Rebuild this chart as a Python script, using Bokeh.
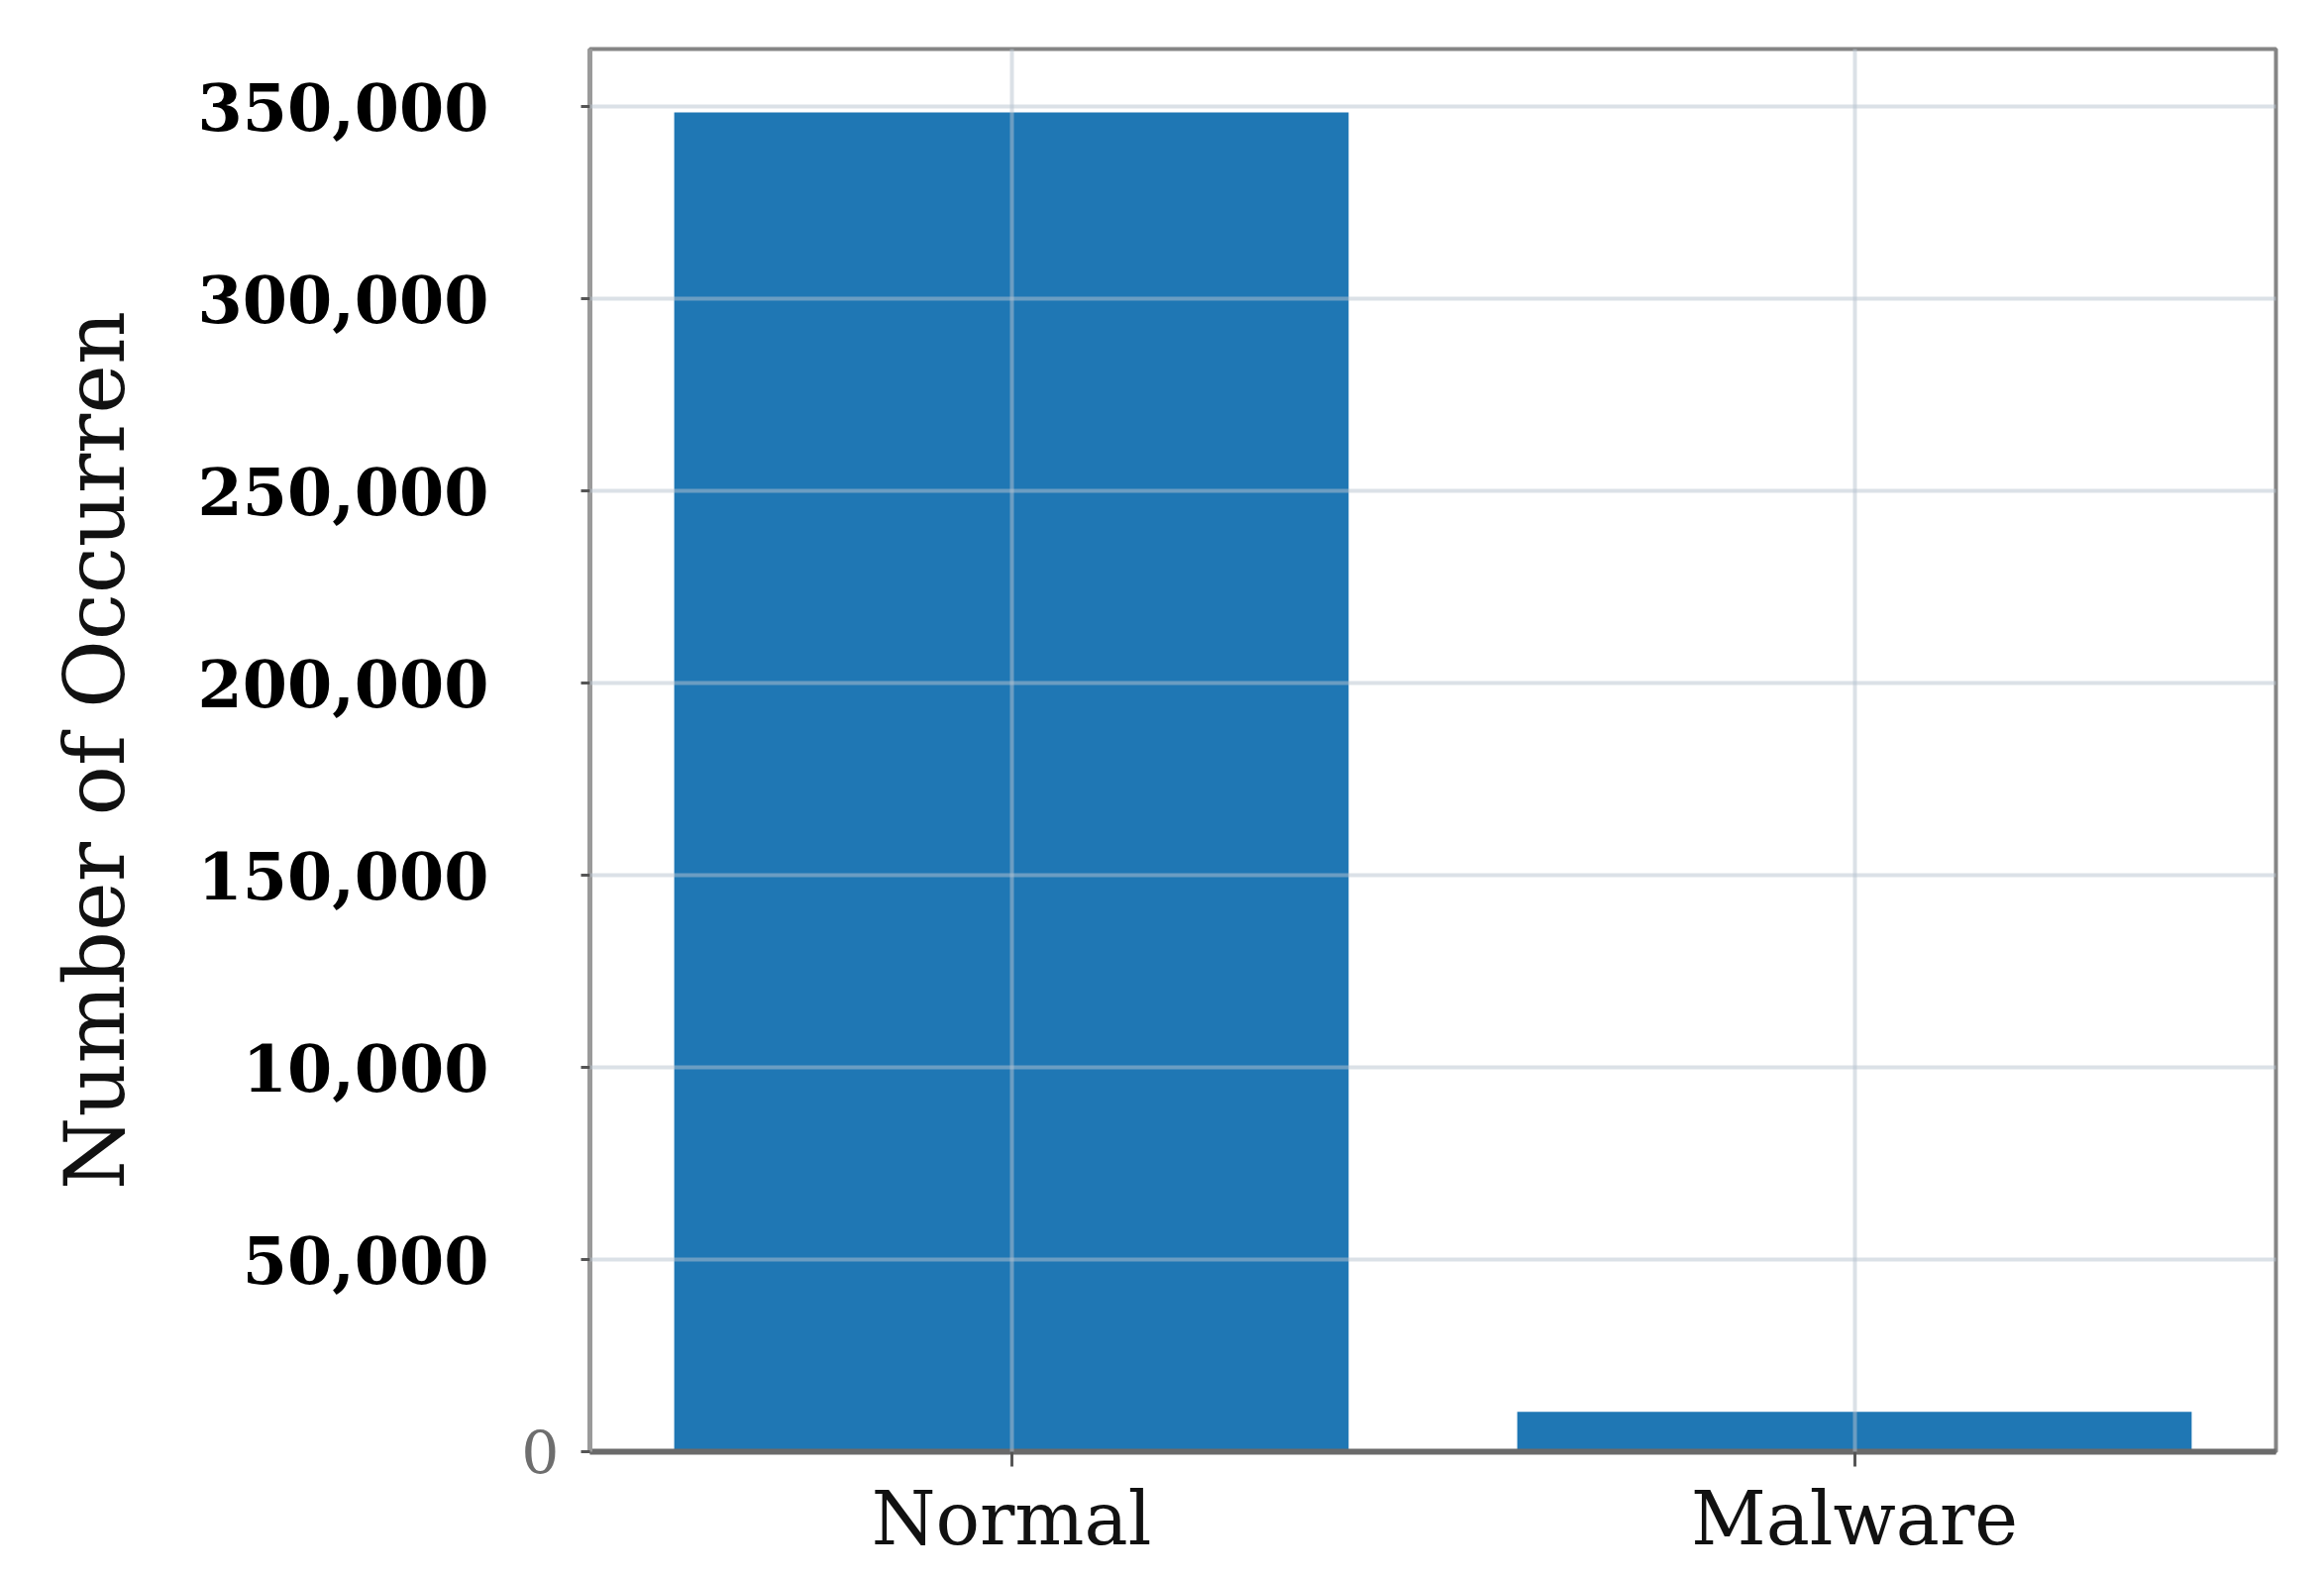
from bokeh.plotting import figure
from bokeh.models import (FactorRange, Range1d, LinearAxis, FixedTicker,
                          NumeralTickFormatter, ColumnDataSource)
from bokeh.embed import file_html
from bokeh.resources import INLINE

categories = ["Normal", "Malware"]
occurrences = [348500, 10400]
y_ticks = [0, 50000, 100000, 150000, 200000, 250000, 300000, 350000]
y_tick_labels = ["0", "50,000", "10,000", "150,000", "200,000", "250,000", "300,000", "350,000"]
y_label = "Number of Occurren"

FONT = "DejaVu Serif"

p = figure(width=2330, height=1578, output_backend="svg", toolbar_location=None,
           x_range=FactorRange(*categories, range_padding=0),
           y_range=Range1d(0, 365000),
           min_border_left=595, min_border_right=33, min_border_top=49,
           min_border_bottom=10)
p.outline_line_color = "#858585"
p.outline_line_width = 4

src = ColumnDataSource(dict(cat=categories, val=occurrences))
p.vbar(x="cat", top="val", width=0.8, source=src, fill_color="#1f77b4",
       line_color=None)

# inner y axis: only "0" label, with ticks
inner = p.yaxis[0]
inner.ticker = FixedTicker(ticks=y_ticks)
inner.major_label_overrides = {t: (lab if t == 0 else "") for t, lab in zip(y_ticks, y_tick_labels)}
inner.major_label_text_font = FONT
inner.major_label_text_font_size = "60px"
inner.major_label_text_color = "#6e6e6e"
inner.major_label_standoff = 22
inner.major_tick_out = 9
inner.major_tick_in = 0
inner.major_tick_line_color = "#555555"
inner.major_tick_line_width = 3
inner.minor_tick_line_color = None
inner.axis_line_color = "#9a9a9a"
inner.axis_line_width = 5

# outer y axis: bold labels + axis title
outer = LinearAxis(ticker=FixedTicker(ticks=y_ticks[1:]),
                   formatter=NumeralTickFormatter(format="0,0"))
outer.major_label_overrides = {t: lab for t, lab in zip(y_ticks[1:], y_tick_labels[1:])}
outer.major_label_text_font = FONT
outer.major_label_text_font_style = "bold"
outer.major_label_text_font_size = "65px"
outer.major_label_text_color = "#000000"
outer.major_label_standoff = 24
outer.major_tick_line_color = None
outer.minor_tick_line_color = None
outer.axis_line_color = None
outer.axis_label = y_label
outer.axis_label_text_font = FONT
outer.axis_label_text_font_style = "normal"
outer.axis_label_text_font_size = "84px"
outer.axis_label_text_color = "#111111"
outer.axis_label_standoff = 52
p.add_layout(outer, "left")

# x axis
xa = p.xaxis[0]
xa.major_label_text_font = FONT
xa.major_label_text_font_size = "74px"
xa.major_label_text_color = "#111111"
xa.major_label_standoff = 9
xa.major_tick_out = 15
xa.major_tick_in = 0
xa.major_tick_line_color = "#555555"
xa.major_tick_line_width = 3
xa.axis_line_color = "#6a6a6a"
xa.axis_line_width = 6

# grids over the bars
p.ygrid.ticker = FixedTicker(ticks=y_ticks)
for g in (p.xgrid[0], p.ygrid[0]):
    g.level = "overlay"
    g.grid_line_color = "#b8c4d0"
    g.grid_line_alpha = 0.5
    g.grid_line_width = 4

open("out.html", "w").write(file_html(p, INLINE))
